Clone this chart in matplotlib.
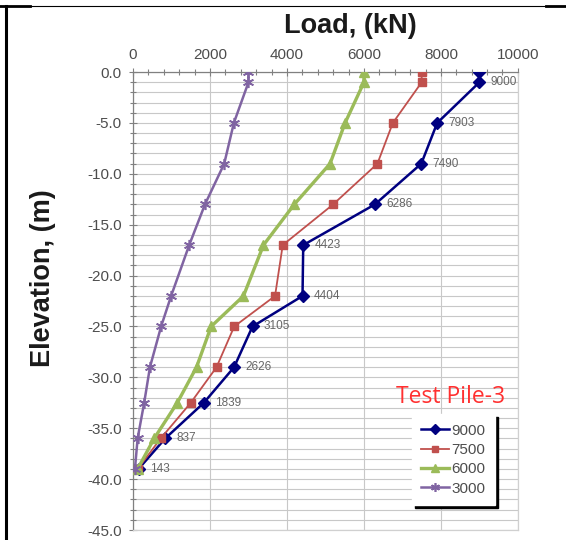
import matplotlib.pyplot as plt
from matplotlib.lines import Line2D
from matplotlib.ticker import MultipleLocator, FormatStrFormatter

plt.rcParams["axes.unicode_minus"] = False
plt.rcParams["font.family"] = ["Liberation Sans", "DejaVu Sans"]

# elevation of each measuring point (m)
elevation = [0, -1, -5, -9, -13, -17, -22, -25, -29, -32.5, -36, -39]

# axial load at each elevation, per applied head load (kN)
load_9000 = [9000, 9000, 7903, 7490, 6286, 4423, 4404, 3105, 2626, 1839, 837, 143]
load_7500 = [7500, 7500, 6750, 6350, 5200, 3890, 3690, 2630, 2170, 1500, 720, 120]
load_6000 = [6000, 6000, 5510, 5120, 4190, 3390, 2870, 2030, 1650, 1150, 550, 120]
load_3000 = [3000, 3000, 2620, 2370, 1870, 1460, 990, 730, 440, 290, 120, 50]

series_names = ["9000", "7500", "6000", "3000"]

# values written next to the 9000 kN curve (first point has no label)
label_values = load_9000[1:]
label_elev = elevation[1:]

styles = {
    "9000": {"color": "#000080", "marker": "D", "markersize": 6, "linewidth": 1.8},
    "7500": {"color": "#C0504D", "marker": "s", "markersize": 6, "linewidth": 1.3},
    "6000": {"color": "#9BBB59", "marker": "^", "markersize": 7, "linewidth": 2.4},
    "3000": {"color": "#8064A2", "marker": (6, 2, 0), "markersize": 8, "linewidth": 1.8,
             "markeredgewidth": 1.2},
}

tick_color = "#4d4d4d"
grid_color = "#c8c8c8"


def plot_all():
    fig = plt.figure(figsize=(5.66, 5.4), dpi=100)
    ax = fig.add_axes([0.235, 0.0185, 0.68, 0.848])

    loads = [load_9000, load_7500, load_6000, load_3000]
    handles = []
    for name, vals in zip(series_names, loads):
        st = styles[name]
        (h,) = ax.plot(
            vals,
            elevation,
            label=name,
            color=st["color"],
            marker=st["marker"],
            markersize=st["markersize"],
            linewidth=st["linewidth"],
            markeredgewidth=st.get("markeredgewidth", 1.0),
            markeredgecolor=st["color"],
            zorder=3,
        )
        handles.append(h)

    for v, e in zip(label_values, label_elev):
        ax.annotate(
            f"{v}",
            (v, e),
            xytext=(8, 0),
            textcoords="offset points",
            fontsize=8.5,
            color="#666666",
            va="center",
            ha="left",
        )

    ax.set_xlim(0, 10000)
    ax.set_ylim(-45, 0)

    ax.xaxis.tick_top()
    ax.xaxis.set_label_position("top")
    ax.xaxis.set_major_locator(MultipleLocator(2000))
    ax.xaxis.set_minor_locator(MultipleLocator(400))
    ax.yaxis.set_major_locator(MultipleLocator(5))
    ax.yaxis.set_minor_locator(MultipleLocator(1))
    ax.yaxis.set_major_formatter(FormatStrFormatter("%.1f"))

    ax.tick_params(which="major", direction="inout", length=6, width=0.8,
                   color="#808080", labelsize=11, labelcolor=tick_color)
    ax.tick_params(which="minor", direction="inout", length=4, width=0.8, color="#808080")
    ax.tick_params(axis="x", which="major", pad=4)
    ax.tick_params(axis="y", which="major", pad=5)

    ax.grid(axis="x", which="major", color=grid_color, linewidth=0.8)
    ax.grid(axis="y", which="both", color=grid_color, linewidth=0.8)
    ax.set_axisbelow(True)

    for side in ["top", "left"]:
        ax.spines[side].set_color("#808080")
        ax.spines[side].set_linewidth(0.9)
    for side in ["right", "bottom"]:
        ax.spines[side].set_color("#d0d0d0")
        ax.spines[side].set_linewidth(0.9)

    ax.set_xlabel("Load, (kN)", fontsize=19.5, weight="bold", color="#1a1a1a")
    ax.xaxis.set_label_coords(0.566, 1.085)
    ax.set_ylabel("Elevation, (m)", fontsize=19.5, weight="bold", color="#1a1a1a")
    ax.yaxis.set_label_coords(-0.20, 0.55)

    ax.text(0.826, 0.29, "Test Pile-3", transform=ax.transAxes, fontsize=16.5,
            color="#ff3030", ha="center", va="center", family=["Open Sans", "DejaVu Sans"])

    leg = ax.legend(
        handles,
        series_names,
        loc="lower right",
        bbox_to_anchor=(0.94, 0.055),
        borderaxespad=0.0,
        fontsize=11,
        handlelength=1.8,
        handletextpad=0.2,
        labelspacing=0.35,
        borderpad=0.6,
        markerscale=0.8,
        fancybox=False,
        shadow={"color": "black", "alpha": 1.0},
        framealpha=1.0,
        edgecolor="white",
    )
    for t in leg.get_texts():
        t.set_color(tick_color)

    # cell border around the chart
    fig.add_artist(Line2D([0, 1], [1 - 6 / 540] * 2, color="black", linewidth=0.8))
    fig.add_artist(Line2D([0, 30 / 566], [1 - 6 / 540] * 2, color="black", linewidth=2))
    fig.add_artist(Line2D([546 / 566, 1], [1 - 6 / 540] * 2, color="black", linewidth=2))
    fig.add_artist(Line2D([6 / 566] * 2, [0, 1 - 6 / 540], color="black", linewidth=2.2))

    plt.savefig("out.png", dpi=100)


if __name__ == "__main__":
    plot_all()
